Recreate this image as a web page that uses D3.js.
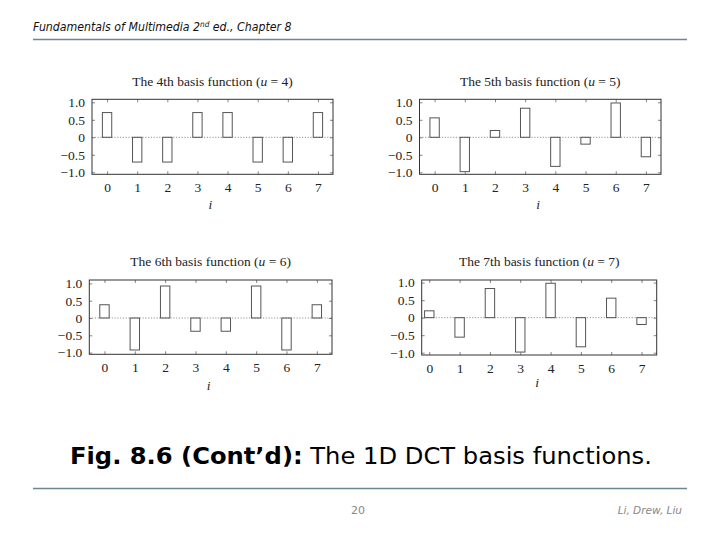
<!DOCTYPE html>
<html>
<head>
<meta charset="utf-8">
<script src="https://cdn.jsdelivr.net/npm/d3@7"></script>
<style>
  html, body { margin: 0; padding: 0; background: #fff; }
  svg { display: block; }
</style>
</head>
<body>
<svg id="chart" width="720" height="540"></svg>
<script>
// ---------- data ----------
const indices = [0, 1, 2, 3, 4, 5, 6, 7];
const uValues = [4, 5, 6, 7];
const ordinals = ["4th", "5th", "6th", "7th"];
const basisU4 = [0.707, -0.707, -0.707, 0.707, 0.707, -0.707, -0.707, 0.707];
const basisU5 = [0.556, -0.981, 0.195, 0.831, -0.831, -0.195, 0.981, -0.556];
const basisU6 = [0.383, -0.924, 0.924, -0.383, -0.383, 0.924, -0.924, 0.383];
const basisU7 = [0.195, -0.556, 0.831, -0.981, 0.981, -0.831, 0.556, -0.195];
const yTickValues = [-1, -0.5, 0, 0.5, 1];
const yTickLabels = ["\u22121.0", "\u22120.5", "0", "0.5", "1.0"];
const xTickLabels = ["0", "1", "2", "3", "4", "5", "6", "7"];
const seriesList = [basisU4, basisU5, basisU6, basisU7];

// ---------- layout (pixels) ----------
const panels = [
  { left: 92,    right: 333,   top: 99.3, bottom: 174.3, yMin: -1.057, yMax: 1.086, xMin: -0.5,  titleY: 86,  iY: 209 },
  { left: 419.5, right: 661,   top: 99.3, bottom: 174.3, yMin: -1.057, yMax: 1.086, xMin: -0.5,  titleY: 86,  iY: 209 },
  { left: 89.3,  right: 332,   top: 280,  bottom: 354.3, yMin: -1.049, yMax: 1.098, xMin: -0.5,  titleY: 266, iY: 390 },
  { left: 421.7, right: 656.7, top: 280,  bottom: 355,   yMin: -1.065, yMax: 1.074, xMin: -0.25, titleY: 266, iY: 387 }
];

const svg = d3.select("#chart");
const serif = "'Liberation Serif', 'Times New Roman', serif";

// ---------- header ----------
const header = svg.append("text")
  .attr("x", 33).attr("y", 31)
  .attr("font-family", "'DejaVu Sans', sans-serif")
  .attr("font-style", "italic")
  .attr("font-size", 12)
  .attr("fill", "#111");
header.append("tspan").text("Fundamentals of Multimedia 2");
header.append("tspan").attr("font-size", 8).attr("dy", -4).text("nd");
header.append("tspan").attr("dy", 4).text(" ed., Chapter 8");
(function fit(sel, x0, target) {
  const w = sel.node().getComputedTextLength();
  const s = target / w;
  sel.attr("transform", `translate(${x0},0) scale(${s},1) translate(${-x0},0)`);
})(header, 33, 259);

svg.append("line").attr("x1", 33).attr("x2", 687).attr("y1", 39.5).attr("y2", 39.5)
  .attr("stroke", "#6e8593").attr("stroke-width", 1.5);

// ---------- panels ----------
panels.forEach((p, k) => {
  const data = seriesList[k];
  const x = d3.scaleLinear().domain([p.xMin, 7.5]).range([p.left, p.right]);
  const y = d3.scaleLinear().domain([p.yMin, p.yMax]).range([p.bottom, p.top]);
  const unit = x(1) - x(0);
  const bw = unit * 0.31;
  const g = svg.append("g");

  // zero line
  g.append("line")
    .attr("x1", p.left).attr("x2", p.right)
    .attr("y1", y(0)).attr("y2", y(0))
    .attr("stroke", "#777").attr("stroke-width", 0.8)
    .attr("stroke-dasharray", "1.2,1.6");

  // bars
  g.selectAll("rect.bar").data(indices).join("rect")
    .attr("class", "bar")
    .attr("x", i => x(i) - bw / 2)
    .attr("y", i => Math.min(y(0), y(data[i])))
    .attr("width", bw)
    .attr("height", i => Math.abs(y(data[i]) - y(0)))
    .attr("fill", "none")
    .attr("stroke", "#555")
    .attr("stroke-width", 1);

  // axes
  const bottom = d3.axisBottom(x).tickValues(indices).tickSize(-3).tickSizeOuter(0).tickPadding(8)
    .tickFormat(i => xTickLabels[i]);
  const top = d3.axisTop(x).tickValues(indices).tickSize(-3).tickSizeOuter(0).tickFormat("");
  const left = d3.axisLeft(y).tickValues(yTickValues).tickSize(-3).tickSizeOuter(0).tickPadding(7)
    .tickFormat((v, j) => yTickLabels[j]);
  const right = d3.axisRight(y).tickValues(yTickValues).tickSize(-3).tickSizeOuter(0).tickFormat("");

  const styleAxis = sel => {
    sel.select(".domain").remove();
    sel.selectAll(".tick line").attr("stroke", "#666").attr("stroke-width", 0.8);
    sel.selectAll(".tick text").attr("font-family", serif).attr("font-size", 13.5).attr("fill", "#222");
  };
  g.append("g").attr("transform", `translate(0,${p.bottom})`).call(bottom).call(styleAxis);
  g.append("g").attr("transform", `translate(0,${p.top})`).call(top).call(styleAxis);
  g.append("g").attr("transform", `translate(${p.left},0)`).call(left).call(styleAxis);
  g.append("g").attr("transform", `translate(${p.right},0)`).call(right).call(styleAxis);

  // frame
  g.append("rect")
    .attr("x", p.left).attr("y", p.top)
    .attr("width", p.right - p.left).attr("height", p.bottom - p.top)
    .attr("fill", "none").attr("stroke", "#333").attr("stroke-width", 1);

  // title
  const cx = (p.left + p.right) / 2;
  const t = g.append("text")
    .attr("x", cx).attr("y", p.titleY)
    .attr("text-anchor", "middle")
    .attr("font-family", serif).attr("font-size", 13.5).attr("fill", "#222");
  t.append("tspan").text(`The ${ordinals[k]} basis function (`);
  t.append("tspan").attr("font-style", "italic").text("u");
  t.append("tspan").text(` = ${uValues[k]})`);

  // x label
  g.append("text")
    .attr("x", cx - 2).attr("y", p.iY)
    .attr("text-anchor", "middle")
    .attr("font-family", serif).attr("font-style", "italic")
    .attr("font-size", 13.5).attr("fill", "#222")
    .text("i");
});

// ---------- caption ----------
const cap = svg.append("text")
  .attr("x", 70).attr("y", 464)
  .attr("font-family", "'DejaVu Sans', sans-serif")
  .attr("font-size", 23).attr("fill", "#000");
cap.append("tspan").attr("font-weight", "bold").text("Fig. 8.6 (Cont\u2019d):");
cap.append("tspan").text(" The 1D DCT basis functions.");
{
  const w = cap.node().getComputedTextLength();
  const s = 582 / w;
  cap.attr("transform", `translate(70,0) scale(${s},1) translate(-70,0)`);
}

svg.append("line").attr("x1", 33).attr("x2", 687).attr("y1", 488.5).attr("y2", 488.5)
  .attr("stroke", "#6e8593").attr("stroke-width", 1.5);

// ---------- footer ----------
svg.append("text").attr("x", 358).attr("y", 514).attr("text-anchor", "middle")
  .attr("font-family", "'DejaVu Sans', sans-serif").attr("font-size", 11).attr("fill", "#888")
  .text("20");
svg.append("text").attr("x", 682).attr("y", 514).attr("text-anchor", "end")
  .attr("font-family", "'DejaVu Sans', sans-serif").attr("font-style", "italic")
  .attr("font-size", 10.5).attr("fill", "#888")
  .text("Li, Drew, Liu");
</script>
</body>
</html>
